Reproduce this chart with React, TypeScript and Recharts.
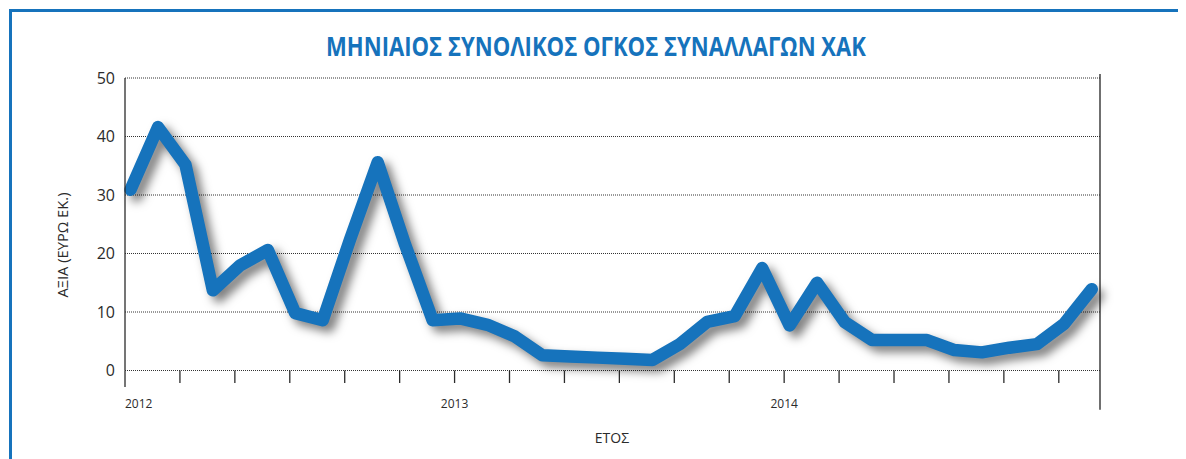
import React from "react";
import {
	LineChart,
	Line,
	XAxis,
	YAxis,
	CartesianGrid,
	ReferenceLine,
} from "recharts";

// monthly volume, Jan 2012 .. Dec 2014 (million EUR)
const values = [
	30.9, 41.6, 35.2, 13.7, 18.0, 20.6, 9.8, 8.6, 22.5, 35.6, 21.5, 8.6,
	8.9, 7.8, 5.8, 2.6, 2.4, 2.2, 2.0, 1.8, 4.5, 8.3, 9.3, 17.5,
	7.7, 15.0, 8.3, 5.2, 5.2, 5.2, 3.5, 3.1, 3.9, 4.5, 8.0, 13.9,
];

const yTicks = [0, 10, 20, 30, 40, 50];
const tickMarks = [
	-0.2, 1.8, 3.8, 5.8, 7.8, 9.8, 11.8, 13.8, 15.8, 17.8, 19.8, 21.8, 23.8,
	25.8, 27.8, 29.8, 31.8, 33.8,
];
const yearTicks = [-0.2, 11.8, 23.8];
const years = ["2012", "2013", "2014"];

const data = values.map((value, month) => ({ month, value }));

const BLUE = "#1673bc";
const INK = "#2b2b2b";
const FONT = "'Open Sans', sans-serif";

function MonthTick(props: any) {
	const { x, y, payload } = props;
	const first = payload.value === tickMarks[0];
	const yi = yearTicks.indexOf(payload.value);
	return (
		<g>
			<line
				x1={x}
				x2={x}
				y1={y}
				y2={y + (first ? 16.5 : 12.5)}
				stroke={INK}
				strokeWidth={1.3}
			/>
			{yi >= 0 && (
				<text
					x={x}
					y={y + 37.5}
					textAnchor={first ? "start" : "middle"}
					fill={INK}
					fontSize={12}
					fontFamily={FONT}
				>
					{years[yi]}
				</text>
			)}
		</g>
	);
}

export default function App() {
	return (
		<div style={{ position: "relative", width: 1170, height: 451, overflow: "hidden" }}>
			<style>{`
				body { overflow: hidden; }
				.recharts-line-curve {
					filter: drop-shadow(6px 6px 5px rgba(0,0,0,0.5));
					stroke-linejoin: round;
					stroke-linecap: round;
				}
			`}</style>
			<div
				style={{
					position: "absolute",
					left: 1,
					top: 1,
					width: 1172,
					height: 480,
					border: `3px solid ${BLUE}`,
					boxSizing: "border-box",
				}}
			/>
			<div style={{ position: "absolute", left: 0, top: 0 }}>
				<LineChart
					width={1170}
					height={451}
					data={data}
					margin={{ top: 70, right: 78, bottom: 48.5, left: 0 }}
				>
					<CartesianGrid
						vertical={false}
						stroke="#333"
						strokeDasharray="1 1"
					/>
					<XAxis
						type="number"
						dataKey="month"
						domain={[-0.2, 35.3]}
						ticks={tickMarks}
						interval={0}
						height={40}
						axisLine={false}
						tickLine={false}
						tickSize={0}
						tickMargin={0}
						tick={<MonthTick />}
					/>
					<YAxis
						width={117}
						domain={[0, 50]}
						ticks={yTicks}
						tickLine={false}
						tickSize={0}
						tickMargin={10}
						axisLine={{ stroke: INK, strokeWidth: 1.3 }}
						tick={{ fill: INK, fontSize: 16, fontFamily: FONT }}
					/>
					<ReferenceLine
						segment={[
							{ x: 35.3, y: 50.7 },
							{ x: 35.3, y: -6.7 },
						]}
						stroke="#222"
						strokeWidth={1.3}
						ifOverflow="visible"
					/>
					<Line
						type="linear"
						dataKey="value"
						stroke={BLUE}
						strokeWidth={12.5}
						dot={false}
						activeDot={false}
						isAnimationActive={false}
					/>
				</LineChart>
			</div>
			<svg
				width={1170}
				height={451}
				style={{ position: "absolute", left: 0, top: 0, pointerEvents: "none" }}
			>
				<text
					x={588}
					y={47.5}
					textAnchor="middle"
					fill={BLUE}
					fontSize={26}
					fontWeight={700}
					fontFamily={FONT}
					textLength={540}
					lengthAdjust="spacingAndGlyphs"
				>
					ΜΗΝΙΑΙΟΣ ΣΥΝΟΛΙΚΟΣ ΟΓΚΟΣ ΣΥΝΑΛΛΑΓΩΝ ΧΑΚ
				</text>
				<text
					x={60}
					y={237}
					transform="rotate(-90, 60, 237)"
					textAnchor="middle"
					fill={INK}
					fontSize={14}
					fontFamily={FONT}
					textLength={105}
					lengthAdjust="spacingAndGlyphs"
				>
					ΑΞΙΑ (ΕΥΡΩ ΕΚ.)
				</text>
				<text
					x={604}
					y={435}
					textAnchor="middle"
					fill={INK}
					fontSize={14}
					fontFamily={FONT}
				>
					ΕΤΟΣ
				</text>
			</svg>
		</div>
	);
}
